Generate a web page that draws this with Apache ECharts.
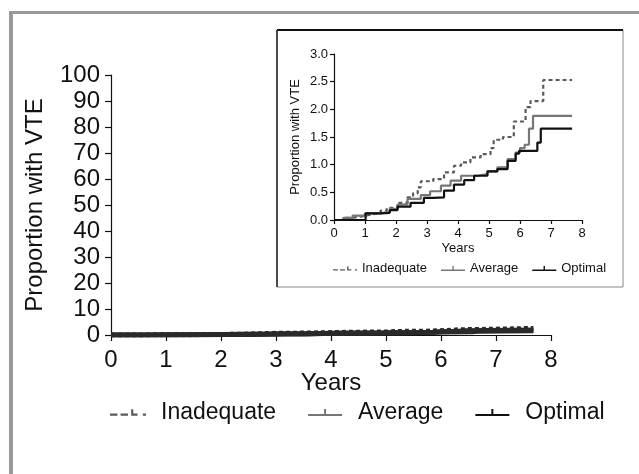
<!DOCTYPE html>
<html>
<head>
<meta charset="utf-8">
<script src="https://cdn.jsdelivr.net/npm/echarts@6/dist/echarts.min.js"></script>
<style>
  html, body { margin: 0; padding: 0; background: #fff; }
  #main { width: 639px; height: 474px; }
</style>
</head>
<body>
<div id="main"></div>
<script>
// 数据 (years, proportion with VTE %)
var inadT = [0, 0.3, 0.6, 0.97, 1.2, 1.5, 1.7, 2.05, 2.37, 2.55, 2.7, 2.8, 3.2, 3.55, 3.87, 4.1, 4.4, 4.73, 5.05, 5.15, 5.45, 5.8, 6.18, 6.34, 6.75, 7.68]
var inadV = [0, 0.04, 0.07, 0.1, 0.13, 0.17, 0.22, 0.31, 0.41, 0.48, 0.59, 0.7, 0.74, 0.86, 0.98, 1.04, 1.13, 1.19, 1.3, 1.45, 1.5, 1.78, 2.04, 2.15, 2.53, 2.53]
var avgT = [0, 0.3, 0.6, 1.0, 1.5, 1.8, 2.05, 2.37, 2.8, 3.1, 3.45, 3.76, 4.1, 4.62, 4.95, 5.27, 5.6, 5.86, 6.0, 6.15, 6.29, 6.42, 7.68]
var avgV = [0, 0.04, 0.08, 0.12, 0.15, 0.2, 0.28, 0.38, 0.45, 0.52, 0.62, 0.71, 0.8, 0.83, 0.88, 0.95, 1.1, 1.22, 1.3, 1.36, 1.65, 1.88, 1.88]
var optT = [0, 1.02, 1.5, 1.8, 2.05, 2.47, 2.9, 3.2, 3.55, 3.87, 4.2, 4.52, 4.95, 5.27, 5.6, 5.86, 5.97, 6.56, 6.67, 7.68]
var optV = [0, 0.12, 0.13, 0.18, 0.24, 0.31, 0.4, 0.41, 0.53, 0.64, 0.72, 0.8, 0.88, 0.92, 1.07, 1.2, 1.25, 1.4, 1.65, 1.65]
var names = ['Inadequate', 'Average', 'Optimal']
var colors = ['#5a5a5a', '#767676', '#111111']

function pairs(t, v) {
  var out = []
  for (var i = 0; i < t.length; i++) {
    out.push([t[i], v[i]])
  }
  return out
}
var groups = [pairs(inadT, inadV), pairs(avgT, avgV), pairs(optT, optV)]

// 图例图标: 虚线 / 带删失刻度的实线
var dashIcon = 'path://M0,5h7v2h-7z M10,5h7v2h-7z M20,1h2v6h-2z M20,5h6v2h-6z M31,5h3v2h-3z'
var tickIcon = 'path://M0,5h34v2h-34z M16,0h2v5h-2z'

var font = 'Liberation Sans, Arial, sans-serif'
var series = []
// 主图 + 插图
for (var g = 0; g < 2; g++) {
  for (var i = 0; i < 3; i++) {
    series.push({
      name: names[i],
      type: 'line',
      step: 'end',
      xAxisIndex: g,
      yAxisIndex: g,
      symbol: 'none',
      data: groups[i],
      lineStyle: {
        color: g == 0 ? '#2a2a2a' : colors[i],
        width: g == 0 ? 5 : 2.2,
        type: i == 0 ? [4, 3] : 'solid'
      },
      itemStyle: { color: colors[i] },
      z: 3 + i
    })
  }
}

var axisCommon = function (size) {
  return {
    axisLine: { show: true, lineStyle: { color: '#111', width: 1.2 } },
    axisTick: { show: true, length: size > 15 ? 6 : 4, lineStyle: { color: '#111', width: 1.2 } },
    splitLine: { show: false },
    axisLabel: { color: '#111', fontSize: size, fontFamily: font, margin: size > 15 ? 13 : 7 },
    nameTextStyle: { color: '#111', fontSize: size, fontFamily: font },
    nameMoveOverlap: false
  }
}

function legendData() {
  var d = []
  for (var i = 0; i < names.length; i++) {
    d.push({ name: names[i], icon: i == 0 ? dashIcon : tickIcon })
  }
  return d
}

var chart = echarts.init(document.getElementById('main'))
chart.setOption({
  animation: false,
  backgroundColor: '#fff',
  graphic: [
    { type: 'rect', z: -10, shape: { x: 9, y: 11, width: 4, height: 470 }, style: { fill: '#999' } },
    { type: 'rect', z: -10, shape: { x: 9, y: 11, width: 640, height: 3 }, style: { fill: '#999' } },
    { type: 'rect', z: -10, shape: { x: 277, y: 30, width: 346, height: 257 }, style: { fill: '#fff', stroke: '#888', lineWidth: 1 } },
    { type: 'line', z: -9, shape: { x1: 277, y1: 30, x2: 623, y2: 30 }, style: { stroke: '#111', lineWidth: 2 } },
    { type: 'line', z: -9, shape: { x1: 277, y1: 30, x2: 277, y2: 287 }, style: { stroke: '#222', lineWidth: 1.5 } }
  ],
  grid: [
    { left: 111, top: 75, width: 440, height: 260 },
    { left: 334, top: 54, width: 248, height: 166 }
  ],
  xAxis: [
    Object.assign(axisCommon(24), {
      type: 'value', gridIndex: 0, min: 0, max: 8, interval: 1,
      name: 'Years', nameLocation: 'middle', nameGap: 36
    }),
    Object.assign(axisCommon(13), {
      type: 'value', gridIndex: 1, min: 0, max: 8, interval: 1,
      name: 'Years', nameLocation: 'middle', nameGap: 22
    })
  ],
  yAxis: [
    Object.assign(axisCommon(24), {
      type: 'value', gridIndex: 0, min: 0, max: 100, interval: 10,
      name: 'Proportion with VTE', nameLocation: 'middle', nameGap: 64,
      axisLabel: { color: '#111', fontSize: 24, fontFamily: font, margin: 11 }
    }),
    Object.assign(axisCommon(13), {
      type: 'value', gridIndex: 1, min: 0, max: 3, interval: 0.5,
      name: 'Proportion with VTE', nameLocation: 'middle', nameGap: 32,
      axisLabel: { color: '#111', fontSize: 13, fontFamily: font, margin: 6, formatter: function (v) { return v.toFixed(1) } }
    })
  ],
  legend: [
    {
      data: legendData(), left: 110, top: 401, padding: 0,
      itemWidth: 36, itemHeight: 7, itemGap: 32,
      textStyle: { color: '#111', fontSize: 23, fontFamily: font, padding: [0, 0, 0, 10] }
    },
    {
      data: legendData(), left: 333, top: 262, padding: 0,
      itemWidth: 24, itemHeight: 5, itemGap: 14,
      textStyle: { color: '#111', fontSize: 13, fontFamily: font }
    }
  ],
  series: series
})
</script>
</body>
</html>
